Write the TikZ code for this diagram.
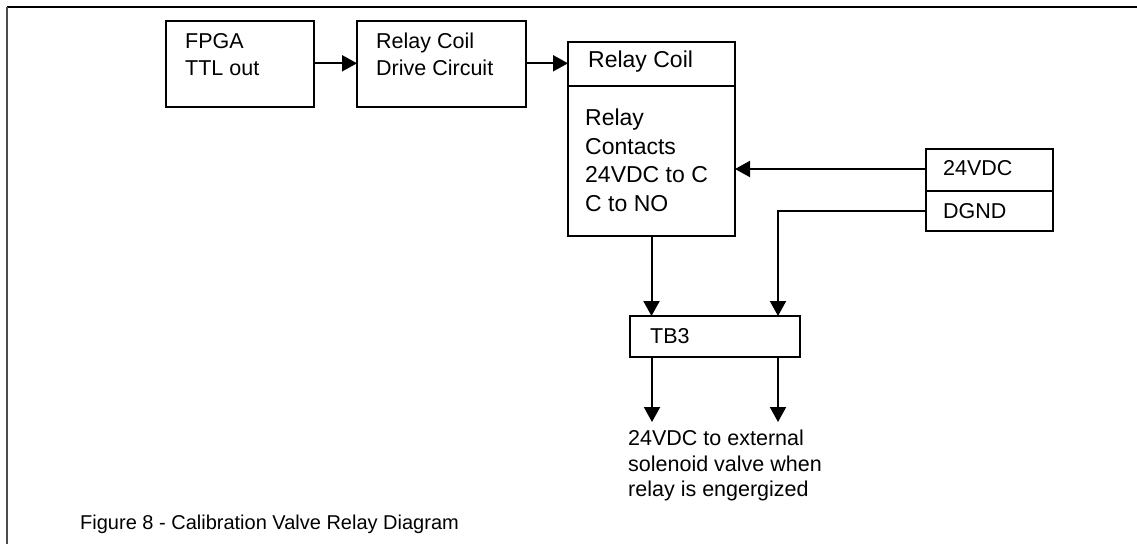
\documentclass[tikz,border=0pt]{standalone}
\usepackage{fontspec}
\setmainfont{Liberation Sans}
\usetikzlibrary{arrows.meta,calc}
\tikzset{
  box/.style={draw=black, line width=2pt, inner sep=0pt, outer sep=0pt, fill=white},
  bigbox/.style={box, line width=2.6pt},
  lbl/.style={anchor=base west, inner sep=0pt, font=\fontsize{21.5}{27}\selectfont, align=left},
  biglbl/.style={lbl, font=\fontsize{23}{28.4}\selectfont},
  captext/.style={anchor=base west, inner sep=0pt, font=\fontsize{20}{24}\selectfont},
  arr/.style={line width=2pt, -{Triangle[length=15pt,width=16pt]}},
  framel/.style={line width=2pt}
}
\begin{document}
\begin{tikzpicture}[x=1pt,y=-1pt]
\useasboundingbox (0,0) rectangle (1137,544);
% frame
\draw[framel, black] (7,7) -- (1137,7);
\draw[framel, black!70] (7,7) -- (7,544);

% boxes
\node[box, minimum width=148pt, minimum height=86pt] (fpga) at (240,64) {};
\node[box, minimum width=169pt, minimum height=86pt] (drive) at (441.5,64) {};
\node[bigbox, minimum width=167pt, minimum height=194pt] (relay) at (651.5,139) {};
\node[box, minimum width=127pt, minimum height=82pt] (pwr) at (989.5,190) {};
\node[box, minimum width=170pt, minimum height=41pt] (tb3) at (715,336.5) {};

% dividers
\draw[line width=2.6pt] ([yshift=-44pt]relay.north west) -- ([yshift=-44pt]relay.north east);
\draw[line width=2pt] ([yshift=-42pt]pwr.north west) -- ([yshift=-42pt]pwr.north east);

% texts (base anchor = baseline of the last line)
\node[lbl] (tfpga) at (185,75) {FPGA\\TTL out};
\node[lbl] (tdrive) at (376,75) {Relay Coil\\Drive Circuit};
\node[biglbl] (tcoil) at (588,67) {Relay Coil};
\node[biglbl] (tcont) at (585,211) {Relay\\Contacts\\24VDC to C\\C to NO};
\node[lbl] (t24) at (943,175) {24VDC};
\node[lbl] (tgnd) at (943,218) {DGND};
\node[lbl] (ttb3) at (650,343) {TB3};
\node[lbl, font=\fontsize{21.5}{25.5}\selectfont] (tout) at (628,496.7) {24VDC to external\\solenoid valve when\\relay is engergized};
\node[captext] (caption) at (80,529) {Figure 8 - Calibration Valve Relay Diagram};

% connectors
\draw[arr] (fpga.east |- 0,63.3) -- (drive.west |- 0,63.3);
\draw[arr] (drive.east |- 0,63.3) -- (relay.west |- 0,63.3);
\coordinate (p24) at ([yshift=-20pt]pwr.north west);
\draw[arr] (p24) -- (p24 -| relay.east);
\coordinate (pgnd) at ([yshift=20pt]pwr.south west);
\coordinate (tbin2) at ([xshift=63pt]tb3.north);
\draw[arr] (pgnd) -| (tbin2);
\draw[arr] (relay.south) -- (relay.south |- tb3.north);
\coordinate (o1) at (652,422);
\coordinate (o2) at (778,422);
\draw[arr] (o1 |- tb3.south) -- (o1);
\draw[arr] (o2 |- tb3.south) -- (o2);
\end{tikzpicture}
\end{document}
